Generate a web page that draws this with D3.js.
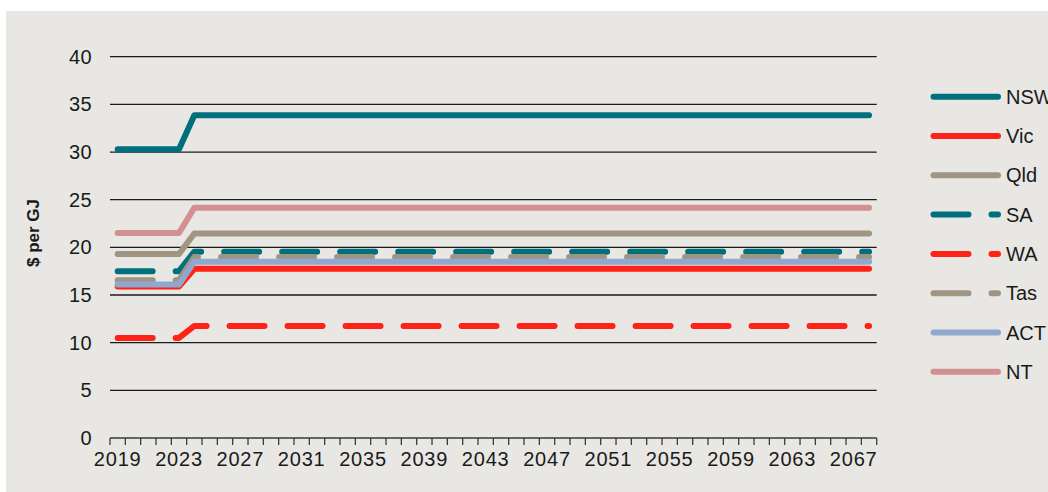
<!DOCTYPE html>
<html>
<head>
<meta charset="utf-8">
<script src="https://cdn.jsdelivr.net/npm/d3@7"></script>
<style>
  body { margin: 0; background: #ffffff; }
  text { font-family: "Liberation Sans", Arial, sans-serif; fill: #1a1a1a; }
</style>
</head>
<body>
<div id="canvas"></div>
<script>
// categories: one per year
let years = [2019, 2020, 2021, 2022, 2023, 2024, 2025, 2026, 2027, 2028,
             2029, 2030, 2031, 2032, 2033, 2034, 2035, 2036, 2037, 2038,
             2039, 2040, 2041, 2042, 2043, 2044, 2045, 2046, 2047, 2048,
             2049, 2050, 2051, 2052, 2053, 2054, 2055, 2056, 2057, 2058,
             2059, 2060, 2061, 2062, 2063, 2064, 2065, 2066, 2067, 2068];

let yTicks = [0, 5, 10, 15, 20, 25, 30, 35, 40];

// series values ($ per GJ)
let nsw = [30.3, 30.3, 30.3, 30.3, 30.3,
  33.85, 33.85, 33.85, 33.85, 33.85, 33.85, 33.85, 33.85, 33.85, 33.85, 33.85, 33.85, 33.85, 33.85, 33.85,
  33.85, 33.85, 33.85, 33.85, 33.85, 33.85, 33.85, 33.85, 33.85, 33.85, 33.85, 33.85, 33.85, 33.85, 33.85,
  33.85, 33.85, 33.85, 33.85, 33.85, 33.85, 33.85, 33.85, 33.85, 33.85, 33.85, 33.85, 33.85, 33.85, 33.85];
let vic = [15.9, 15.9, 15.9, 15.9, 15.9,
  17.75, 17.75, 17.75, 17.75, 17.75, 17.75, 17.75, 17.75, 17.75, 17.75, 17.75, 17.75, 17.75, 17.75, 17.75,
  17.75, 17.75, 17.75, 17.75, 17.75, 17.75, 17.75, 17.75, 17.75, 17.75, 17.75, 17.75, 17.75, 17.75, 17.75,
  17.75, 17.75, 17.75, 17.75, 17.75, 17.75, 17.75, 17.75, 17.75, 17.75, 17.75, 17.75, 17.75, 17.75, 17.75];
let qld = [19.3, 19.3, 19.3, 19.3, 19.3,
  21.45, 21.45, 21.45, 21.45, 21.45, 21.45, 21.45, 21.45, 21.45, 21.45, 21.45, 21.45, 21.45, 21.45, 21.45,
  21.45, 21.45, 21.45, 21.45, 21.45, 21.45, 21.45, 21.45, 21.45, 21.45, 21.45, 21.45, 21.45, 21.45, 21.45,
  21.45, 21.45, 21.45, 21.45, 21.45, 21.45, 21.45, 21.45, 21.45, 21.45, 21.45, 21.45, 21.45, 21.45, 21.45];
let sa = [17.5, 17.5, 17.5, 17.5, 17.5,
  19.55, 19.55, 19.55, 19.55, 19.55, 19.55, 19.55, 19.55, 19.55, 19.55, 19.55, 19.55, 19.55, 19.55, 19.55,
  19.55, 19.55, 19.55, 19.55, 19.55, 19.55, 19.55, 19.55, 19.55, 19.55, 19.55, 19.55, 19.55, 19.55, 19.55,
  19.55, 19.55, 19.55, 19.55, 19.55, 19.55, 19.55, 19.55, 19.55, 19.55, 19.55, 19.55, 19.55, 19.55, 19.55];
let wa = [10.5, 10.5, 10.5, 10.5, 10.5,
  11.75, 11.75, 11.75, 11.75, 11.75, 11.75, 11.75, 11.75, 11.75, 11.75, 11.75, 11.75, 11.75, 11.75, 11.75,
  11.75, 11.75, 11.75, 11.75, 11.75, 11.75, 11.75, 11.75, 11.75, 11.75, 11.75, 11.75, 11.75, 11.75, 11.75,
  11.75, 11.75, 11.75, 11.75, 11.75, 11.75, 11.75, 11.75, 11.75, 11.75, 11.75, 11.75, 11.75, 11.75, 11.75];
let tas = [16.55, 16.55, 16.55, 16.55, 16.55,
  19.0, 19.0, 19.0, 19.0, 19.0, 19.0, 19.0, 19.0, 19.0, 19.0, 19.0, 19.0, 19.0, 19.0, 19.0,
  19.0, 19.0, 19.0, 19.0, 19.0, 19.0, 19.0, 19.0, 19.0, 19.0, 19.0, 19.0, 19.0, 19.0, 19.0,
  19.0, 19.0, 19.0, 19.0, 19.0, 19.0, 19.0, 19.0, 19.0, 19.0, 19.0, 19.0, 19.0, 19.0, 19.0];
let act = [16.1, 16.1, 16.1, 16.1, 16.1,
  18.5, 18.5, 18.5, 18.5, 18.5, 18.5, 18.5, 18.5, 18.5, 18.5, 18.5, 18.5, 18.5, 18.5, 18.5,
  18.5, 18.5, 18.5, 18.5, 18.5, 18.5, 18.5, 18.5, 18.5, 18.5, 18.5, 18.5, 18.5, 18.5, 18.5,
  18.5, 18.5, 18.5, 18.5, 18.5, 18.5, 18.5, 18.5, 18.5, 18.5, 18.5, 18.5, 18.5, 18.5, 18.5];
let nt = [21.5, 21.5, 21.5, 21.5, 21.5,
  24.15, 24.15, 24.15, 24.15, 24.15, 24.15, 24.15, 24.15, 24.15, 24.15, 24.15, 24.15, 24.15, 24.15, 24.15,
  24.15, 24.15, 24.15, 24.15, 24.15, 24.15, 24.15, 24.15, 24.15, 24.15, 24.15, 24.15, 24.15, 24.15, 24.15,
  24.15, 24.15, 24.15, 24.15, 24.15, 24.15, 24.15, 24.15, 24.15, 24.15, 24.15, 24.15, 24.15, 24.15, 24.15];

let seriesNames = ["NSW", "Vic", "Qld", "SA", "WA", "Tas", "ACT", "NT"];
let seriesValues = [nsw, vic, qld, sa, wa, tas, act, nt];

// styles kept apart from the data
let colors = ["#00707c", "#ff2216", "#a09583", "#00707c", "#ff2216", "#a09583", "#8fa8cf", "#d39090"];
let dashed = [false, false, false, true, true, true, false, false];

let width = 1048, height = 492;

let drawing = d3.select("#canvas")
    .append("svg")
    .attr("width", width)
    .attr("height", height);

// grey chart background
drawing.append("rect")
    .attr("x", 6)
    .attr("y", 11)
    .attr("width", width - 6)
    .attr("height", height - 11)
    .attr("fill", "#e8e7e3");

let x = d3.scaleBand()
    .domain(years)
    .range([110, 876.7])
    .padding(0);

let y = d3.scaleLinear()
    .domain([0, 40])
    .range([438, 56.7]);

let cx = d => x(d) + x.bandwidth() / 2;

// horizontal gridlines
drawing.append("g")
    .selectAll("line")
    .data(yTicks.filter(d => d > 0))
    .join("line")
    .attr("x1", 110)
    .attr("x2", 876.7)
    .attr("y1", d => y(d))
    .attr("y2", d => y(d))
    .attr("stroke", "#1a1a1a")
    .attr("stroke-width", 1.3);

// y axis labels
let yAxis = drawing.append("g")
    .attr("transform", "translate(92,0)")
    .call(d3.axisLeft(y).tickValues(yTicks).tickSize(0).tickPadding(0));
yAxis.select(".domain").remove();
yAxis.selectAll("text")
    .style("font-family", "Liberation Sans, Arial, sans-serif")
    .style("font-size", "20px")
    .style("letter-spacing", "0.4px")
    .attr("fill", "#1a1a1a");

// x axis line and ticks between categories
drawing.append("line")
    .attr("x1", 110)
    .attr("x2", 876.7)
    .attr("y1", 438)
    .attr("y2", 438)
    .attr("stroke", "#3a3a3a")
    .attr("stroke-width", 1.5);

let boundaries = years.map(d => x(d)).concat([x(years[years.length - 1]) + x.bandwidth()]);
drawing.append("g")
    .selectAll("line")
    .data(boundaries)
    .join("line")
    .attr("x1", d => d)
    .attr("x2", d => d)
    .attr("y1", 438)
    .attr("y2", 445)
    .attr("stroke", "#3a3a3a")
    .attr("stroke-width", 1.3);

let xAxis = drawing.append("g")
    .attr("transform", "translate(0,446)")
    .call(d3.axisBottom(x).tickValues(years.filter((d, i) => i % 4 == 0)).tickSize(0).tickPadding(6));
xAxis.select(".domain").remove();
xAxis.selectAll("text")
    .style("font-family", "Liberation Sans, Arial, sans-serif")
    .style("font-size", "20px")
    .style("letter-spacing", "0.8px")
    .attr("fill", "#1a1a1a");

// y axis title
drawing.append("text")
    .attr("transform", "translate(39,233) rotate(-90)")
    .attr("text-anchor", "middle")
    .style("font-size", "17px")
    .style("font-weight", "bold")
    .text("$ per GJ");

// series lines
let line = d3.line()
    .x((d, i) => cx(years[i]))
    .y(d => y(d));

seriesValues.forEach((vals, k) => {
    drawing.append("path")
        .attr("d", line(vals))
        .attr("fill", "none")
        .attr("stroke", colors[k])
        .attr("stroke-width", 6)
        .attr("stroke-linecap", "round")
        .attr("stroke-linejoin", "round")
        .attr("stroke-dasharray", dashed[k] ? "35,23" : null);
});

// legend (NSW runs off the right edge, as in the original)
let legend = drawing.append("g");
seriesNames.forEach((name, k) => {
    let ly = 96.7 + k * 39.3;
    legend.append("line")
        .attr("x1", 933.5)
        .attr("x2", 998)
        .attr("y1", ly)
        .attr("y2", ly)
        .attr("stroke", colors[k])
        .attr("stroke-width", 6)
        .attr("stroke-linecap", "round")
        .attr("stroke-dasharray", dashed[k] ? "35,23" : null);
    legend.append("text")
        .attr("x", 1006)
        .attr("y", ly)
        .attr("dy", "0.35em")
        .style("font-size", "20px")
        .text(name);
});
</script>
</body>
</html>
